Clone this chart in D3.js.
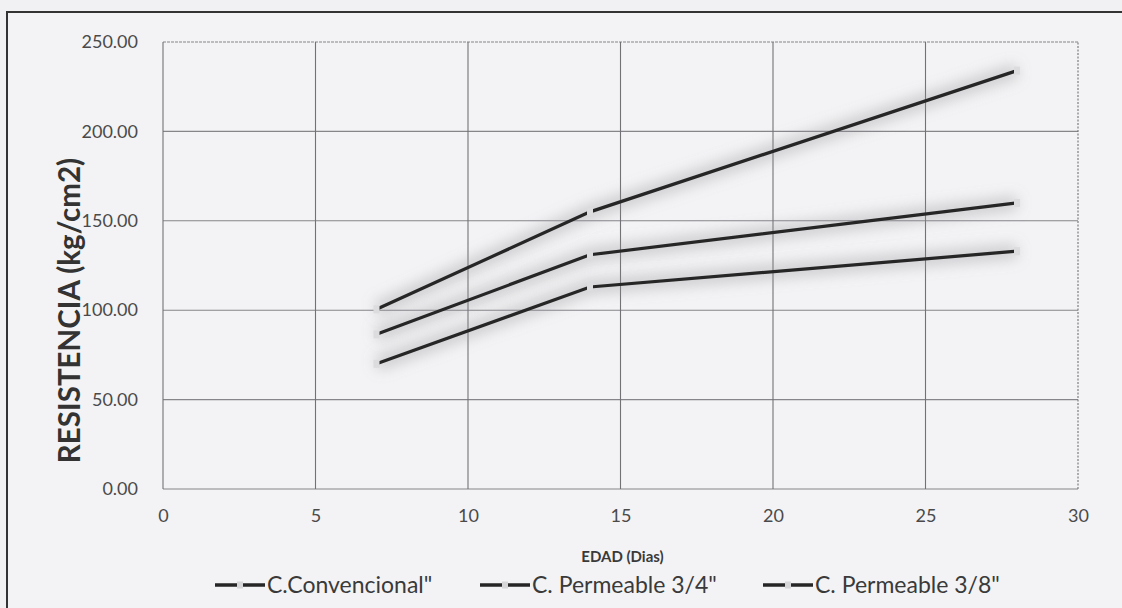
<!DOCTYPE html>
<html>
<head>
<meta charset="utf-8">
<script src="https://cdn.jsdelivr.net/npm/d3@7"></script>
<style>
  html, body { margin: 0; padding: 0; background: #f1f1f3; }
  svg { display: block; }
</style>
</head>
<body>
<svg id="chart" width="1122" height="608"></svg>
<script>
// Compressive strength vs. age
const days = [7, 14, 28];
const convencional = [100.5, 155, 234];
const permeable34 = [86.5, 131, 160];
const permeable38 = [70, 113, 133];
const seriesNames = ['C.Convencional"', 'C. Permeable 3/4"', 'C. Permeable 3/8"'];
const xTicks = [0, 5, 10, 15, 20, 25, 30];
const yTicks = [0, 50, 100, 150, 200, 250];

const series = [convencional, permeable34, permeable38].map((vals, i) => ({
  name: seriesNames[i],
  points: days.map((d, j) => ({ x: d, y: vals[j] }))
}));

const svg = d3.select("#chart");
const font = "Lato, 'Open Sans', sans-serif";

const x = d3.scaleLinear().domain([0, 30]).range([163, 1078]);
const y = d3.scaleLinear().domain([0, 250]).range([489, 42]);

// soft haze under the lines
const defs = svg.append("defs");
const blur = defs.append("filter").attr("id", "haze")
  .attr("x", "-20%").attr("y", "-50%").attr("width", "140%").attr("height", "200%");
blur.append("feGaussianBlur").attr("stdDeviation", 7);

// outer frame
svg.append("rect")
  .attr("x", 7).attr("y", 12).attr("width", 1130).attr("height", 620)
  .attr("fill", "#f3f3f5").attr("stroke", "#333").attr("stroke-width", 2);

// grid
const grid = svg.append("g");
grid.selectAll("line.h").data(yTicks).join("line")
  .attr("x1", x(0)).attr("x2", x(30))
  .attr("y1", d => y(d)).attr("y2", d => y(d))
  .attr("stroke", "#85858a").attr("stroke-width", 1.1)
  .attr("stroke-dasharray", d => d === 250 ? "3,1" : null);
grid.selectAll("line.v").data(xTicks).join("line")
  .attr("x1", d => x(d)).attr("x2", d => x(d))
  .attr("y1", y(0)).attr("y2", y(250))
  .attr("stroke", "#727276").attr("stroke-width", 1.1)
  .attr("stroke-dasharray", d => d === 30 ? "2,1.5" : null);

// axes (labels only)
const yAxis = svg.append("g").attr("transform", `translate(${x(0)},0)`)
  .call(d3.axisLeft(y).tickValues(yTicks).tickFormat(d3.format(".2f")).tickSize(0).tickPadding(25));
yAxis.select(".domain").remove();
yAxis.selectAll("text").attr("font-family", font).attr("font-size", 18).attr("fill", "#4a4a4a");

const xAxis = svg.append("g").attr("transform", `translate(0,${y(0)})`)
  .call(d3.axisBottom(x).tickValues(xTicks).tickFormat(d3.format("d")).tickSize(0).tickPadding(20));
xAxis.select(".domain").remove();
xAxis.selectAll("text").attr("font-family", font).attr("font-size", 18).attr("fill", "#4a4a4a");

// titles
svg.append("text")
  .attr("transform", `translate(80,${(y(0) + y(250)) / 2 + 45}) rotate(-90)`)
  .attr("text-anchor", "middle")
  .attr("font-family", font).attr("font-weight", "bold").attr("font-size", 29.5)
  .attr("fill", "#333")
  .text("RESISTENCIA (kg/cm2)");

svg.append("text")
  .attr("x", (x(0) + x(30)) / 2 + 2).attr("y", 562)
  .attr("text-anchor", "middle")
  .attr("font-family", font).attr("font-weight", "bold").attr("font-size", 15)
  .attr("fill", "#3a3a3a")
  .text("EDAD (Dias)");

// lines
const line = d3.line().x(d => x(d.x)).y(d => y(d.y));
const plot = svg.append("g");

plot.selectAll("path.haze").data(series).join("path")
  .attr("d", d => line(d.points))
  .attr("fill", "none").attr("stroke", "#8e8e94").attr("stroke-width", 14)
  .attr("stroke-opacity", 0.4).attr("filter", "url(#haze)");

plot.selectAll("path.line").data(series).join("path")
  .attr("d", d => line(d.points))
  .attr("fill", "none").attr("stroke", "#262626").attr("stroke-width", 3.2)
  .attr("stroke-linecap", "round");

// markers: light gray squares that break the line at each point
plot.selectAll("g.mk").data(series).join("g")
  .selectAll("rect").data(d => d.points).join("rect")
  .attr("x", d => x(d.x) - 3).attr("y", d => y(d.y) - 4)
  .attr("width", 6).attr("height", 8)
  .attr("fill", "#dcdcdf");

// legend
const legendX = [215, 480, 763];
const lg = svg.append("g").selectAll("g").data(series).join("g")
  .attr("transform", (d, i) => `translate(${legendX[i]},585)`);
lg.append("line").attr("x1", 0).attr("x2", 50).attr("y1", 0).attr("y2", 0)
  .attr("stroke", "#262626").attr("stroke-width", 3.4);
lg.append("rect").attr("x", 22).attr("y", -3.5).attr("width", 6).attr("height", 7).attr("fill", "#d6d6d9");
lg.append("text").attr("x", 52).attr("y", 0).attr("dy", "0.36em")
  .attr("font-family", font).attr("font-size", 23).attr("fill", "#3a3a3a")
  .text(d => d.name);
</script>
</body>
</html>
